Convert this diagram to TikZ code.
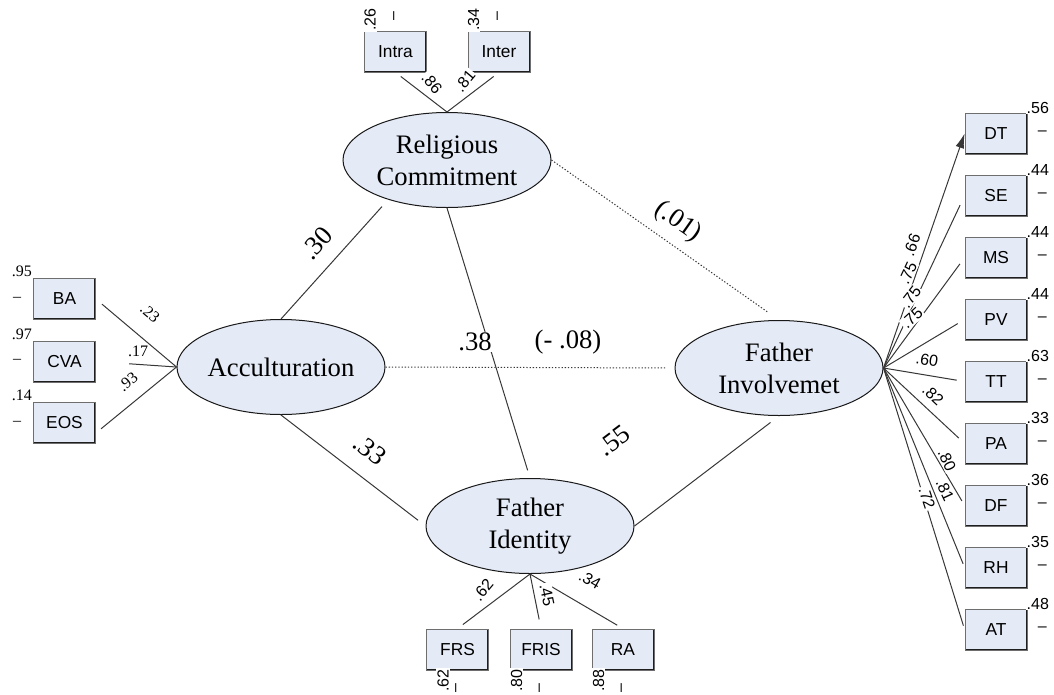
\documentclass[tikz,border=0pt]{standalone}
\usepackage{fontspec}
\setmainfont{Liberation Serif}
\setsansfont{Liberation Sans}
\usetikzlibrary{shapes.geometric,arrows.meta,calc}

\tikzset{
  latent/.style={ellipse, draw={rgb, 255:red, 25; green, 25; blue, 25 }, line width=0.75, fill={rgb, 255:red, 228; green, 234; blue, 246 }, minimum width=156pt, minimum height=71.25pt, inner sep=0pt, align=center, font=\fontsize{20}{24}\selectfont},
  ind/.style={rectangle, draw={rgb, 255:red, 110; green, 110; blue, 110 }, line width=0.6, fill={rgb, 255:red, 228; green, 234; blue, 246 }, minimum width=46.5pt, minimum height=30.75pt, inner sep=0pt, font=\sffamily\fontsize{13}{15}\selectfont, path picture={\draw[color={rgb, 255:red, 30; green, 30; blue, 30 }, line width=1.6] (path picture bounding box.north east) -- (path picture bounding box.south east) -- (path picture bounding box.south west);}},
  link/.style={draw={rgb, 255:red, 55; green, 55; blue, 55 }, line width=0.75},
  covar/.style={draw={rgb, 255:red, 55; green, 55; blue, 55 }, line width=0.75, dash pattern=on 1pt off 1.4pt},
  coef/.style={font=\fontsize{20}{24}\selectfont, fill=white, inner sep=1pt},
  loads/.style={font=\sffamily\fontsize{12}{14}\selectfont, fill=white, inner sep=0.8pt},
  loadr/.style={font=\fontsize{12}{14}\selectfont, fill=white, inner sep=0.8pt},
  errs/.style={font=\sffamily\fontsize{12}{14}\selectfont, fill=white, inner sep=0.8pt},
  errr/.style={font=\fontsize{12}{14}\selectfont, fill=white, inner sep=0.8pt}
}

\begin{document}
\begin{tikzpicture}[x=0.75pt,y=0.75pt,yscale=-1]
\path[use as bounding box] (0,0) rectangle (1054,694);

%Shape: Ellipse
\node[latent] (rc) at (447,160) {Religious\\Commitment};
%Shape: Ellipse
\node[latent] (acc) at (281,367) {Acculturation};
%Shape: Ellipse
\node[latent] (fi) at (779,368) {Father\\Involvemet};
%Shape: Ellipse
\node[latent] (fid) at (530,526) {Father\\Identity};

%Shape: Rectangle
\node[ind] (intra) at (395.5,51.5) {Intra};
\node[ind] (inter) at (499,51.5) {Inter};
%Shape: Rectangle
\node[ind] (ba) at (64.5,299) {BA};
\node[ind] (cva) at (64.5,361.5) {CVA};
\node[ind] (eos) at (64.5,423) {EOS};
%Shape: Rectangle
\node[ind] (frs) at (457.5,649.5) {FRS};
\node[ind] (fris) at (541,649.5) {FRIS};
\node[ind] (ra) at (623,649.5) {RA};
%Shape: Rectangle
\node[ind] (dt) at (996,133.5) {DT};
\node[ind] (se) at (996,195.5) {SE};
\node[ind] (ms) at (996,257.5) {MS};
\node[ind] (pv) at (996,319.5) {PV};
\node[ind] (tt) at (996,381.5) {TT};
\node[ind] (pa) at (996,443.5) {PA};
\node[ind] (df) at (996,505.5) {DF};
\node[ind] (rh) at (996,567.5) {RH};
\node[ind] (att) at (996,629.5) {AT};

%Straight Lines
\draw[link, shorten >=7] (acc.north) -- (rc.214);
\draw[link, shorten >=6] (rc.south) -- (fid.north);
\draw[link, shorten >=7] (acc.south) -- (fid.west);
\draw[link, shorten >=8] (fid.east) -- (fi.south);
%Dotted Lines
\draw[covar, shorten >=10] (rc.east) -- (fi.north);
\draw[covar, shorten >=7] (acc.east) -- (fi.west);

%Straight Lines
\draw[link, shorten >=5] (rc.north) -- (intra.south);
\draw[link, shorten >=5] (rc.north) -- (inter.south);
\draw[link, shorten >=6] (acc.west) -- (ba.east);
\draw[link, shorten >=25] (acc.west) -- (cva.east);
\draw[link, shorten >=5] (acc.west) -- ($(eos.east)+(0,10)$);
\draw[link, shorten >=5] (fid.south) -- (frs.north);
\draw[link, shorten >=7] (fid.south) -- (fris.north);
\draw[link, shorten >=5] (fid.south) -- (ra.north);
\draw[link, -{Latex[length=11pt,width=6.5pt]}] (fi.east) -- (dt.west);
\draw[link, shorten >=8] (fi.east) -- (se.west);
\draw[link, shorten >=6] (fi.east) -- (ms.west);
\draw[link, shorten >=6] (fi.east) -- (pv.west);
\draw[link, shorten >=6] (fi.east) -- (tt.west);
\draw[link, shorten >=6] (fi.east) -- (pa.west);
\draw[link, shorten >=4] (fi.east) -- (df.west);
\draw[link, shorten >=3] (fi.east) -- (rh.west);
\draw[link, shorten >=3] (fi.east) -- (att.west);

% Text Node
\node[coef, rotate=48] (c30) at (317,243) {.30};
\node[coef] (c38) at (475,342) {.38};
\node[coef] (c08) at (568,342) {(- .08)};
\node[coef, rotate=-35] (c01) at (678,222) {(.01)};
\node[coef, rotate=-38] (c33) at (370,450) {.33};
\node[coef, rotate=37] (c55) at (614,441) {.55};

% Text Node
\node[loads, rotate=-50] (l86) at (432,83) {.86};
\node[loads, rotate=50] (l81) at (465,81) {.81};
\node[loadr, rotate=-40] (l23) at (150,313) {.23};
\node[loadr] (l17) at (138,351) {.17};
\node[loadr, rotate=40] (l93) at (128,382) {.93};
\node[loads, rotate=50] (l62) at (483,590) {.62};
\node[loads, rotate=-78] (l45) at (547,595) {.45};
\node[loads, rotate=-30] (l34) at (590,580) {.34};
\node[loads, rotate=70] (l66) at (912,245) {.66};
\node[loads, rotate=65] (l75a) at (908,273) {.75};
\node[loads, rotate=52] (l75b) at (911,297) {.75};
\node[loads, rotate=42] (l75c) at (912,318) {.75};
\node[loads, rotate=-9] (l60) at (927,360) {.60};
\node[loads, rotate=-43] (l82) at (933,395) {.82};
\node[loads, rotate=-65] (l80) at (947,460) {.80};
\node[loads, rotate=-65] (l81b) at (945,490) {.81};
\node[loads, rotate=-72] (l72) at (927,498) {.72};

% Text Node
\node[errs, rotate=90] (e26) at ($(intra.north west)+(6,-11)$) {.26};
\node[errs, rotate=90] (d26) at ($(intra.north)+(0,-15)$) {–};
\node[errs, rotate=90] (e34) at ($(inter.north west)+(6,-11)$) {.34};
\node[errs, rotate=90] (d34) at ($(inter.north)+(0,-15)$) {–};
\node[errr, anchor=south east] (e95) at (ba.north west) {.95};
\node[errr] (d95) at ($(ba.west)+(-16,0)$) {–};
\node[errr, anchor=south east] (e97) at (cva.north west) {.97};
\node[errr] (d97) at ($(cva.west)+(-16,0)$) {–};
\node[errr, anchor=south east] (e14) at (eos.north west) {.14};
\node[errr] (d14) at ($(eos.west)+(-16,0)$) {–};
\node[errs, rotate=90] (e62) at ($(frs.south west)+(17,10)$) {.62};
\node[errs, rotate=90] (d62) at ($(frs.south)+(0,18)$) {–};
\node[errs, rotate=90] (e80) at ($(fris.south west)+(7,10)$) {.80};
\node[errs, rotate=90] (d80) at ($(fris.south)+(0,18)$) {–};
\node[errs, rotate=90] (e88) at ($(ra.south west)+(7,10)$) {.88};
\node[errs, rotate=90] (d88) at ($(ra.south)+(0,18)$) {–};
\node[errs, anchor=south west] (e56) at ($(dt.north east)+(-2,2)$) {.56};
\node[errs] (d56) at ($(dt.east)+(15,0)$) {–};
\node[errs, anchor=south west] (e44a) at ($(se.north east)+(-2,2)$) {.44};
\node[errs] (d44a) at ($(se.east)+(15,0)$) {–};
\node[errs, anchor=south west] (e44b) at ($(ms.north east)+(-2,2)$) {.44};
\node[errs] (d44b) at ($(ms.east)+(15,0)$) {–};
\node[errs, anchor=south west] (e44c) at ($(pv.north east)+(-2,2)$) {.44};
\node[errs] (d44c) at ($(pv.east)+(15,0)$) {–};
\node[errs, anchor=south west] (e63) at ($(tt.north east)+(-2,2)$) {.63};
\node[errs] (d63) at ($(tt.east)+(15,0)$) {–};
\node[errs, anchor=south west] (e33) at ($(pa.north east)+(-2,2)$) {.33};
\node[errs] (d33) at ($(pa.east)+(15,0)$) {–};
\node[errs, anchor=south west] (e36) at ($(df.north east)+(-2,2)$) {.36};
\node[errs] (d36) at ($(df.east)+(15,0)$) {–};
\node[errs, anchor=south west] (e35) at ($(rh.north east)+(-2,2)$) {.35};
\node[errs] (d35) at ($(rh.east)+(15,0)$) {–};
\node[errs, anchor=south west] (e48) at ($(att.north east)+(-2,2)$) {.48};
\node[errs] (d48) at ($(att.east)+(15,0)$) {–};

\end{tikzpicture}
\end{document}
